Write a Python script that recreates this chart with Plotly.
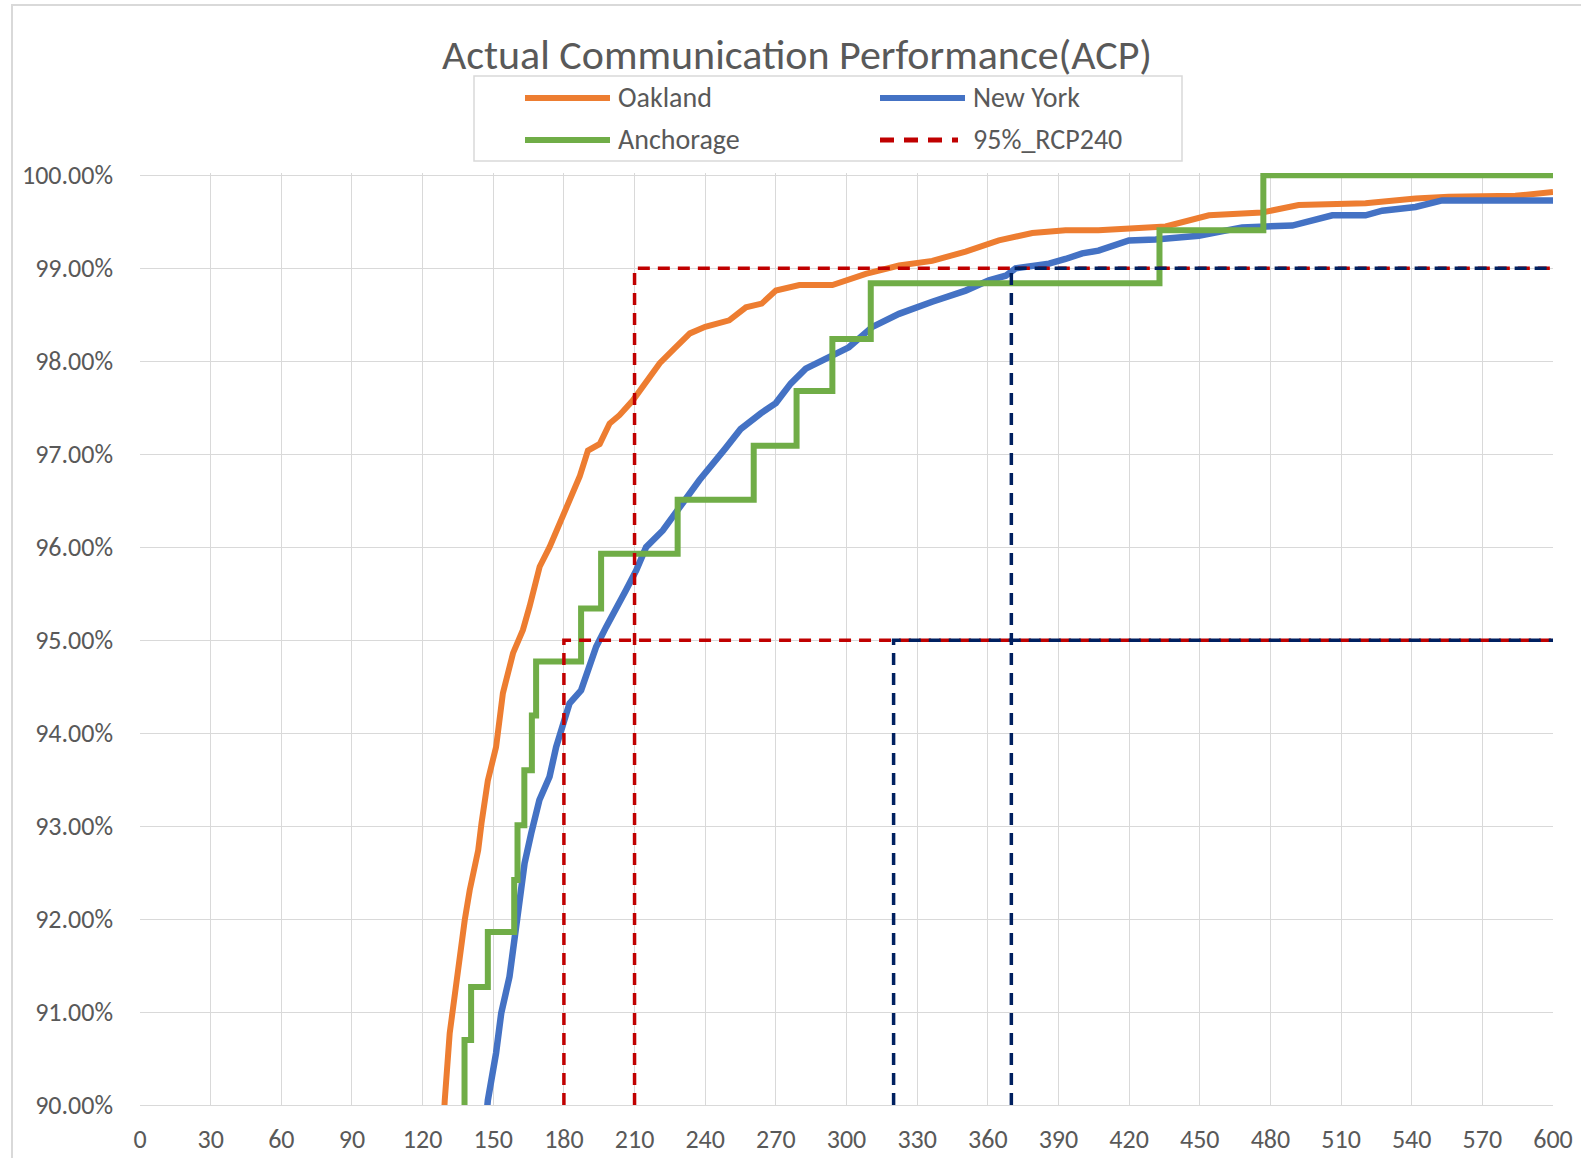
import plotly.graph_objects as go

# ---------------- data ----------------
series_names = ["Oakland", "New York", "Anchorage", "95%_RCP240"]

oakland_t = [129.0, 129.4, 131.5, 133.7, 135.8, 137.9, 140.0, 143.6, 145.0, 147.7,
             151.2, 154.1, 158.4, 162.6, 165.4, 169.7, 173.9, 178.2, 182.4, 186.7,
             190.2, 195.2, 199.4, 203.6, 209.3, 216.4, 220.7, 227.1, 233.5, 240.0,
             250.2, 257.3, 264.0, 270.0, 280.0, 294.0, 308.2, 322.3, 336.4, 350.6,
             364.7, 378.9, 393.0, 407.0, 421.3, 435.5, 453.9, 476.4, 492.0, 520.4,
             541.6, 555.7, 584.0, 600.0]
oakland_v = [89.85, 90.05, 90.77, 91.20, 91.63, 91.99, 92.31, 92.74, 93.03, 93.49,
             93.85, 94.43, 94.86, 95.11, 95.36, 95.79, 96.00, 96.25, 96.51, 96.76,
             97.04, 97.11, 97.33, 97.42, 97.58, 97.82, 97.98, 98.14, 98.30, 98.37,
             98.44, 98.58, 98.62, 98.76, 98.82, 98.82, 98.94, 99.03, 99.08, 99.18,
             99.30, 99.38, 99.41, 99.41, 99.43, 99.45, 99.57, 99.60, 99.68, 99.70,
             99.75, 99.77, 99.78, 99.82]

newyork_t = [147.0, 147.7, 151.2, 153.4, 156.9, 159.0, 161.2, 163.3, 166.1, 169.6,
             173.9, 176.7, 180.2, 182.4, 187.3, 190.8, 193.7, 197.9, 202.2, 206.4,
             210.7, 214.9, 222.0, 226.2, 231.9, 237.5, 248.5, 255.0, 263.6, 270.0,
             276.3, 282.7, 289.8, 301.0, 311.0, 322.3, 336.4, 350.6, 360.5, 367.6,
             371.8, 386.0, 393.0, 400.1, 407.0, 419.9, 431.2, 449.6, 468.0, 489.3,
             506.3, 520.4, 527.5, 541.6, 552.9, 600.0]
newyork_v = [89.85, 90.05, 90.56, 90.99, 91.38, 91.81, 92.13, 92.60, 92.92, 93.28,
             93.53, 93.85, 94.14, 94.32, 94.46, 94.71, 94.93, 95.14, 95.36, 95.54,
             95.75, 96.00, 96.18, 96.33, 96.54, 96.72, 97.06, 97.27, 97.44, 97.55,
             97.76, 97.92, 98.01, 98.15, 98.37, 98.51, 98.64, 98.76, 98.87, 98.92,
             99.00, 99.05, 99.10, 99.16, 99.19, 99.30, 99.31, 99.35, 99.44, 99.46,
             99.57, 99.57, 99.62, 99.66, 99.73, 99.73]

anchorage_t = [137.8, 137.8, 140.6, 147.7, 158.9, 160.3, 163.2, 166.4, 168.2, 187.3,
               195.8, 228.3, 260.6, 278.8, 294.0, 310.3, 432.9, 477.0, 600.0]
anchorage_v = [89.5, 90.70, 91.27, 91.86, 92.42, 93.01, 93.60, 94.19, 94.77, 95.34,
               95.93, 96.51, 97.09, 97.68, 98.24, 98.84, 99.41, 100.0, 100.0]

rcp_t = [180, 180, 600, None, 210, 210, 600]
rcp_v = [90, 95, 95, None, 90, 99, 99]

ref_t = [320, 320, 600, None, 370, 370, 600]
ref_v = [90, 95, 95, None, 90, 99, 99]

x_ticks = list(range(0, 601, 30))
y_ticks = [90, 91, 92, 93, 94, 95, 96, 97, 98, 99, 100]
y_tick_text = [f"{v:.2f}%" for v in y_ticks]

# ---------------- style ----------------
colors = ["#ED7D31", "#4472C4", "#70AD47", "#C00000"]
navy = "#002060"
font_family = "Calibri, Carlito, Lato, sans-serif"
text_color = "#595959"
grid_color = "#D9D9D9"

fig = go.Figure()
fig.add_trace(go.Scatter(x=oakland_t, y=oakland_v, mode="lines", name=series_names[0],
                         line=dict(color=colors[0], width=6)))
fig.add_trace(go.Scatter(x=newyork_t, y=newyork_v, mode="lines", name=series_names[1],
                         line=dict(color=colors[1], width=6.5)))
fig.add_trace(go.Scatter(x=anchorage_t, y=anchorage_v, mode="lines", name=series_names[2],
                         line=dict(color=colors[2], width=6, shape="hv")))
fig.add_trace(go.Scatter(x=rcp_t, y=rcp_v, mode="lines", name=series_names[3],
                         line=dict(color=colors[3], width=3.5, dash="12px,8px")))
fig.add_trace(go.Scatter(x=ref_t, y=ref_v, mode="lines", name="ref", showlegend=False,
                         line=dict(color=navy, width=3.5, dash="12px,8px")))

# plot area geometry (pixels)
W, H = 1581, 1158
L, R, T, B = 140, 28, 173, 53
pw, ph = W - L - R, H - T - B


def px(X):
    return (X - L) / pw


def py(Y):
    return (H - B - Y) / ph


shapes = []
annotations = []
# chart area border
shapes.append(dict(type="rect", xref="paper", yref="paper",
                   x0=px(12), x1=px(1600), y0=py(1180), y1=py(5),
                   line=dict(color=grid_color, width=2), layer="below"))
# legend box
shapes.append(dict(type="rect", xref="paper", yref="paper",
                   x0=px(474), x1=px(1182), y0=py(161), y1=py(76),
                   line=dict(color=grid_color, width=1.5), fillcolor="white"))
legend_pos = [(525, 610, 616, 98), (880, 965, 971, 98), (525, 610, 616, 140), (880, 958, 971, 140)]
legend_styles = [dict(color=colors[0], width=6), dict(color=colors[1], width=6),
                 dict(color=colors[2], width=6), dict(color=colors[3], width=5, dash="14px,10px")]
for name, (sx0, sx1, tx, ty), st in zip(series_names, legend_pos, legend_styles):
    shapes.append(dict(type="line", xref="paper", yref="paper",
                       x0=px(sx0), x1=px(sx1), y0=py(ty), y1=py(ty), line=st))
    annotations.append(dict(xref="paper", yref="paper", x=px(tx), y=py(ty),
                            xanchor="left", yanchor="middle", showarrow=False,
                            text=name, font=dict(size=28, color=text_color, family=font_family)))

fig.update_layout(
    width=W, height=H, autosize=False,
    margin=dict(l=L, r=R, t=T, b=B, pad=0, autoexpand=False),
    paper_bgcolor="white", plot_bgcolor="white",
    showlegend=False,
    font=dict(family=font_family, color=text_color, size=26),
    title=dict(text="Actual Communication Performance(ACP)", xref="container", yref="container",
               x=797 / W, y=1 - 54 / H, xanchor="center", yanchor="middle",
               font=dict(size=42, color=text_color, family=font_family)),
    shapes=shapes,
    annotations=annotations,
)
fig.update_xaxes(range=[0, 600], tickvals=x_ticks, showgrid=True, gridcolor=grid_color, gridwidth=1.3,
                 zeroline=False, showline=True, linecolor=grid_color, linewidth=1.3, ticks="",
                 automargin=False, ticklabelstandoff=11, tickfont=dict(size=26, color=text_color))
fig.update_yaxes(range=[90, 100.025], tickvals=y_ticks, ticktext=y_tick_text,
                 showgrid=True, gridcolor=grid_color, gridwidth=1.3, zeroline=False, showline=False,
                 ticks="", automargin=False, ticklabelstandoff=26, tickfont=dict(size=26, color=text_color))

fig.write_html("out.html", config={"displayModeBar": False, "responsive": False},
               post_script="document.body.style.margin='0';document.body.style.overflow='hidden';")
